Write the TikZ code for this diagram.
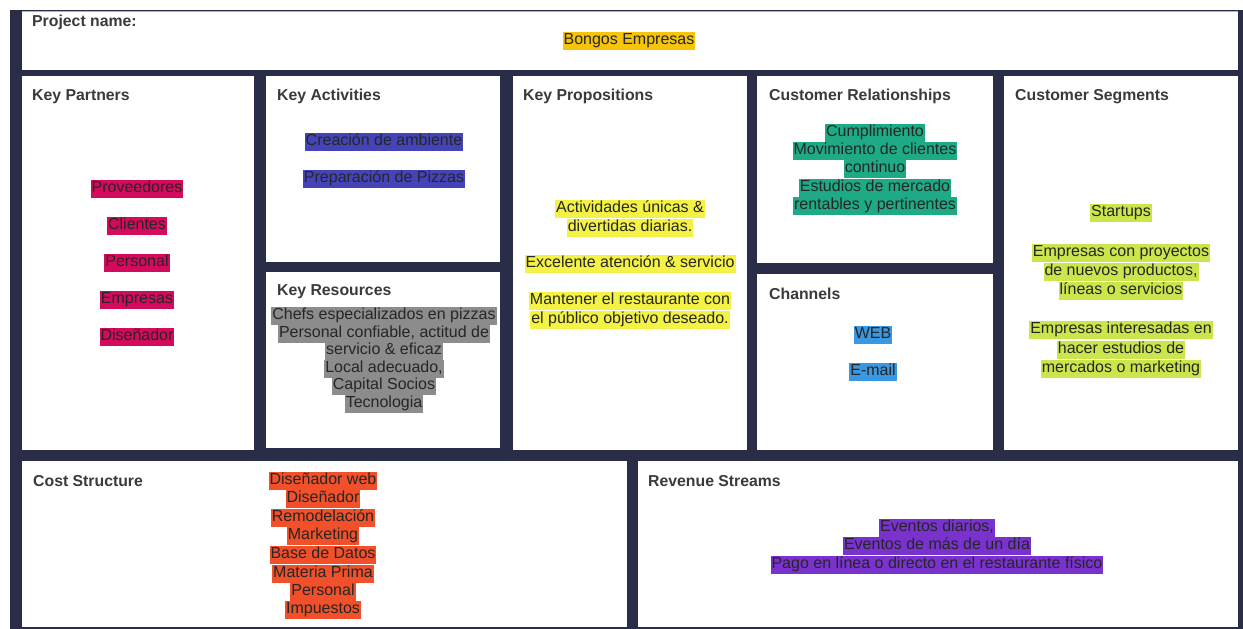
\documentclass[tikz,border=0pt]{standalone}
\usepackage{fontspec}
\setmainfont{Liberation Sans}
\definecolor{navy}{HTML}{2A2D47}
\definecolor{ttlgray}{HTML}{3A3A3E}
\definecolor{cGold}{HTML}{F7C40C}
\definecolor{cCrimson}{HTML}{D40A5C}
\definecolor{cIndigo}{HTML}{4444B8}
\definecolor{cGray}{HTML}{8C8C8C}
\definecolor{cYellow}{HTML}{F4F244}
\definecolor{cTeal}{HTML}{1EAA84}
\definecolor{cBlue}{HTML}{3A98E2}
\definecolor{cLime}{HTML}{CAE64C}
\definecolor{cOrange}{HTML}{F2502A}
\definecolor{cPurple}{HTML}{7A32CE}
\begin{document}
\begin{tikzpicture}[x=1pt,y=-1pt,
  box/.style={fill=white, draw=none, anchor=north west, inner sep=0pt, outer sep=0pt},
  ttl/.style={anchor=base west, font=\bfseries\fontsize{15.8}{18}\selectfont, text=ttlgray, inner sep=0pt},
  hl/.style={font=\fontsize{16}{18}\selectfont, text=black!85, inner xsep=1pt, inner ysep=1.5pt, text height=11.5pt, text depth=3.8pt},
]
\useasboundingbox (0,0) rectangle (1243,629);
\fill[white] (0,0) rectangle (1243,629);
\fill[navy] (10,10) rectangle (1243,629);
% boxes
\node (hdr) [box, minimum width=1216pt, minimum height=59pt] at (22,11) {};
\draw[gray!60, line width=1pt] (hdr.north west) -- (hdr.north east);
\node (kp) [box, minimum width=232pt, minimum height=374pt] at (22,76) {};
\node (ka) [box, minimum width=234pt, minimum height=186pt] at (266,76) {};
\node (kr) [box, minimum width=234pt, minimum height=176pt] at (266,272) {};
\node (kprop) [box, minimum width=234pt, minimum height=374pt] at (513,76) {};
\node (cr) [box, minimum width=236pt, minimum height=187pt] at (757,76) {};
\node (ch) [box, minimum width=236pt, minimum height=176pt] at (757,274) {};
\node (cs) [box, minimum width=234pt, minimum height=374pt] at (1004,76) {};
\node (cost) [box, minimum width=605pt, minimum height=166pt] at (22,461) {};
\node (rev) [box, minimum width=600pt, minimum height=166pt] at (638,461) {};
% titles
\node (tpn) [ttl] at (32,27) {Project name:};
\node (tkp) [ttl] at (32,100) {Key Partners};
\node (tka) [ttl] at (277,100) {Key Activities};
\node (tkr) [ttl] at (277,295) {Key Resources};
\node (tkprop) [ttl] at (523,100) {Key Propositions};
\node (tcr) [ttl] at (769,100) {Customer Relationships};
\node (tch) [ttl] at (769,299) {Channels};
\node (tcs) [ttl] at (1015,100) {Customer Segments};
\node (tcost) [ttl] at (33,486) {Cost Structure};
\node (trev) [ttl] at (648,486) {Revenue Streams};
% project
\node (pn) [hl, fill=cGold] at (629,41) {Bongos Empresas};
% key partners
\node (kp1) [hl, fill=cCrimson] at (137,189) {Proveedores};
\node (kp2) [hl, fill=cCrimson] at (137,226) {Clientes};
\node (kp3) [hl, fill=cCrimson] at (137,263) {Personal};
\node (kp4) [hl, fill=cCrimson] at (137,300) {Empresas};
\node (kp5) [hl, fill=cCrimson] at (137,337) {Diseñador};
% key activities
\node (ka1) [hl, fill=cIndigo] at (384,142) {Creación de ambiente};
\node (ka2) [hl, fill=cIndigo] at (384,179) {Preparación de Pizzas};
% key resources
\node (kr1) [hl, fill=cGray] at (384,316) {Chefs especializados en pizzas};
\node (kr2) [hl, fill=cGray] at (384,334) {Personal confiable, actitud de};
\node (kr3) [hl, fill=cGray] at (384,351) {servicio \& eficaz};
\node (kr4) [hl, fill=cGray] at (384,369) {Local adecuado,};
\node (kr5) [hl, fill=cGray] at (384,386) {Capital Socios};
\node (kr6) [hl, fill=cGray] at (384,404) {Tecnologia};
% key propositions
\node (vp1) [hl, fill=cYellow] at (630,209) {Actividades únicas \&};
\node (vp2) [hl, fill=cYellow] at (630,228) {divertidas diarias.};
\node (vp3) [hl, fill=cYellow] at (630,264) {Excelente atención \& servicio};
\node (vp4) [hl, fill=cYellow] at (630,301) {Mantener el restaurante con};
\node (vp5) [hl, fill=cYellow] at (630,320) {el público objetivo deseado.};
% customer relationships
\node (cr1) [hl, fill=cTeal] at (875,133) {Cumplimiento};
\node (cr2) [hl, fill=cTeal] at (875,151) {Movimiento de clientes};
\node (cr3) [hl, fill=cTeal] at (875,169) {continuo};
\node (cr4) [hl, fill=cTeal] at (875,188) {Estudios de mercado};
\node (cr5) [hl, fill=cTeal] at (875,206) {rentables y pertinentes};
% channels
\node (ch1) [hl, fill=cBlue] at (873,335) {WEB};
\node (ch2) [hl, fill=cBlue] at (873,372) {E-mail};
% customer segments
\node (cs1) [hl, fill=cLime] at (1121,213) {Startups};
\node (cs2) [hl, fill=cLime] at (1121,253) {Empresas con proyectos};
\node (cs3) [hl, fill=cLime] at (1121,272) {de nuevos productos,};
\node (cs4) [hl, fill=cLime] at (1121,291) {líneas o servicios};
\node (cs5) [hl, fill=cLime] at (1121,330) {Empresas interesadas en};
\node (cs6) [hl, fill=cLime] at (1121,350) {hacer estudios de};
\node (cs7) [hl, fill=cLime] at (1121,369) {mercados o marketing};
% cost structure
\node (co1) [hl, fill=cOrange] at (323,481) {Diseñador web};
\node (co2) [hl, fill=cOrange] at (323,499) {Diseñador};
\node (co3) [hl, fill=cOrange] at (323,518) {Remodelación};
\node (co4) [hl, fill=cOrange] at (323,536) {Marketing};
\node (co5) [hl, fill=cOrange] at (323,555) {Base de Datos};
\node (co6) [hl, fill=cOrange] at (323,574) {Materia Prima};
\node (co7) [hl, fill=cOrange] at (323,592) {Personal};
\node (co8) [hl, fill=cOrange] at (323,610) {Impuestos};
% revenue streams
\node (rs1) [hl, fill=cPurple] at (937,528) {Eventos diarios,};
\node (rs2) [hl, fill=cPurple] at (937,546) {Eventos de más de un día};
\node (rs3) [hl, fill=cPurple] at (937,565) {Pago en línea o directo en el restaurante físico};
\end{tikzpicture}
\end{document}
